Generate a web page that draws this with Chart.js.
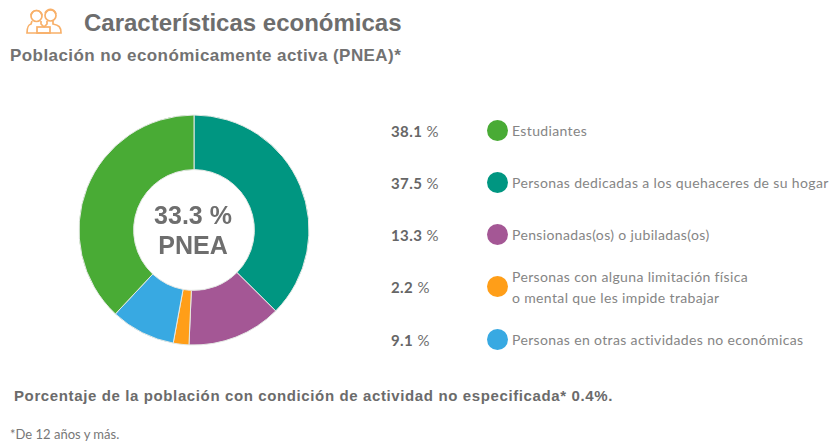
<!DOCTYPE html>
<html lang="es"><head><meta charset="utf-8">
<script src="https://cdn.jsdelivr.net/npm/chart.js@4"></script>
<style>
html,body{margin:0;padding:0;background:#fff;width:829px;height:442px;overflow:hidden}
body{position:relative;font-family:"Liberation Sans",sans-serif;color:#6e6e6e}
.t{position:absolute;white-space:nowrap}
#title{left:84px;top:8px;font:bold 24px/30px "Liberation Sans";color:#6d6d6d}
#sub{left:10px;top:46px;font:bold 17px/20px "Liberation Sans";letter-spacing:.43px;color:#727272}
#note{left:14px;top:386px;font:bold 15px/20px "Liberation Sans";letter-spacing:.62px;color:#6b6b6b}
#foot{left:10px;top:427px;font:13px/15px Lato;color:#777}
#wrap{position:absolute;left:74px;top:109.5px;width:240px;height:240px}
#center{position:absolute;left:73px;top:110px;width:240px;height:240px;display:flex;flex-direction:column;align-items:center;justify-content:center;font:bold 25px/30px "Liberation Sans";color:#6e6e6e}
.pct{position:absolute;left:391px;font:15px/18px Lato;letter-spacing:.4px;color:#6e6e6e}
.pct b{font-weight:700;color:#666}
.dot{position:absolute;left:487px;width:21px;height:21px;border-radius:50%}
.lab{position:absolute;left:512px;font:14px/21px Lato;letter-spacing:.36px;color:#858585;white-space:nowrap}
svg{position:absolute;left:26px;top:8px}
</style></head><body>
<svg width="36" height="27" viewBox="0 0 36 27" fill="none" stroke="#f8b069" stroke-width="1.7">
<circle cx="10.5" cy="8" r="5.5"/><path d="M5 7c2-6 9-6 11 0"/><path d="M6 13l-1 3c-3 1-4 3-4 9h34c0-6-2-8-8-9v-3"/>
<circle cx="24.5" cy="7.5" r="5.5"/><path d="M19 5c3-5 9-5 11 1"/><path d="M21 13v3l-3 3M15 13v3l3 3"/>
<rect x="11" y="19" width="13" height="6"/></svg>
<div class="t" id="title">Características económicas</div>
<div class="t" id="sub">Población no económicamente activa (PNEA)*</div>
<div id="wrap"><canvas id="c" width="240" height="240"></canvas></div>
<div id="center"><div>33.3 %</div><div>PNEA</div></div>
<div id="legend"></div>
<div class="t" id="note">Porcentaje de la población con condición de actividad no especificada* 0.4%.</div>
<div class="t" id="foot">*De 12 años y más.</div>
<script>
const categories = ["Personas dedicadas a los quehaceres de su hogar","Pensionadas(os) o jubiladas(os)","Personas con alguna limitación física\no mental que les impide trabajar","Personas en otras actividades no económicas","Estudiantes"];
const values = [37.5,13.3,2.2,9.1,38.1];
const colors = ["#009681","#a45795","#ff9e18","#38a9e2","#49ab35"];
const legendOrder = [4,0,1,2,3];
const legendY = [131,183,235,287,340];

const legend = document.getElementById('legend');
legendOrder.forEach((idx,i)=>{
  const y = legendY[i];
  legend.insertAdjacentHTML('beforeend',
    `<div class="pct" style="top:${y-9}px"><b>${values[idx].toFixed(1)}</b> %</div>
     <div class="dot" style="top:${y-11}px;background:${colors[idx]}"></div>`);
  const lines = categories[idx].split("\n");
  const h = lines.length*21;
  legend.insertAdjacentHTML('beforeend',
    `<div class="lab" style="top:${y-(lines.length>1?0:1)-h/2}px">${lines.join('<br>')}</div>`);
});

new Chart(document.getElementById('c'),{
  type:'doughnut',
  data:{labels:categories,datasets:[{data:values,backgroundColor:colors,borderColor:'#e4e8e4',borderWidth:1}]},
  options:{responsive:false,animation:false,cutout:'52.5%',rotation:0,
    layout:{padding:4.5},
    plugins:{legend:{display:false},tooltip:{enabled:false}}}
});
</script>
</body></html>
